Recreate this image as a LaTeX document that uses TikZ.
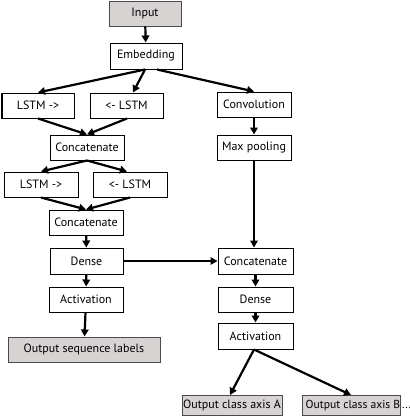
\documentclass[tikz,border=0pt]{standalone}
\usepackage{fontspec}
\setmainfont{PT Sans}
\usetikzlibrary{arrows.meta,calc}
\definecolor{outfill}{HTML}{D8D3D3}
\definecolor{outline}{HTML}{4A4A4A}
\tikzset{
  boxfont/.style={font=\fontsize{12}{14}\selectfont},
  layer/.style={draw=black, line width=1pt, fill=white, rectangle, inner sep=0pt,
    minimum height=25pt, boxfont},
  outbox/.style={layer, draw=outline, fill=outfill},
  flow/.style={line width=2.2pt, -{Triangle[length=7pt,width=7.5pt]}},
  thinflow/.style={line width=1.4pt, -{Triangle[length=7pt,width=7.5pt]}},
}
\begin{document}
\begin{tikzpicture}[x=1pt,y=-1pt]
\useasboundingbox (0,0) rectangle (410,416);

% left branch: embedding and stacked bidirectional LSTMs
\node[outbox, minimum width=72pt] (input) at (145,13.5) {Input};
\node[layer, minimum width=72pt, minimum height=26pt] (emb) at (146,56) {Embedding};
\node[layer, minimum width=72pt] (l1f) at (38,105.5) {LSTM ->};
\node[layer, minimum width=73pt] (l1b) at (126.5,105.5) {<- LSTM};
\node[layer, minimum width=74pt] (cat1) at (87,147.5) {Concatenate};
\node[layer, minimum width=74pt] (l2f) at (41,184.5) {LSTM ->};
\node[layer, minimum width=74pt] (l2b) at (130,184.5) {<- LSTM};
\node[layer, minimum width=74pt] (cat2) at (86,222.5) {Concatenate};
\node[layer, minimum width=73pt, minimum height=26pt] (densel) at (86.5,261) {Dense};
\node[layer, minimum width=74pt] (actl) at (86,299.5) {Activation};
\node[outbox, minimum width=152pt] (outseq) at (84,349.5) {Output sequence labels};

% right branch: convolution and class heads
\node[layer, minimum width=74pt] (conv) at (254,104.5) {Convolution};
\node[layer, minimum width=74pt] (pool) at (254,147.5) {Max pooling};
\node[layer, minimum width=75pt, minimum height=26pt] (catr) at (255.5,261) {Concatenate};
\node[layer, minimum width=75pt] (denser) at (255.5,299.5) {Dense};
\node[layer, minimum width=75pt, minimum height=26pt] (actr) at (255.5,336) {Activation};
\node[outbox, minimum width=100pt, minimum height=20pt] (outa) at (232,405.5) {Output class axis A};
\node[outbox, minimum width=98pt, minimum height=20pt] (outb) at (351,405.5) {};
% the label of the last head runs past its box
\node[anchor=west, inner sep=0pt, font=\fontsize{11.6}{14}\selectfont] (outbtxt)
  at ([xshift=4pt]outb.west) {Output class axis B\,...};

% connectors
\draw[flow] (input) -- (emb);
\draw[flow] ([xshift=-1pt]emb.south) -- (l1f.north);
\draw[flow] ([xshift=-1pt]emb.south) -- ([xshift=6.5pt]l1b.north);
\draw[flow] ([xshift=11pt]emb.south) -- (conv.north);
\draw[flow] (l1f.south) -- (cat1.north);
\draw[flow] ([xshift=0.5pt]l1b.south) -- (cat1.north);
\draw[flow] (cat1.south) -- (l2f.north);
\draw[flow] (cat1.south) -- ([xshift=-3pt]l2b.north);
\draw[flow] (l2f.south) -- (cat2.north);
\draw[flow] (l2b.south) -- (cat2.north);
\draw[flow] (cat2) -- (densel);
\draw[flow] (densel) -- (actl);
\draw[flow] (actl) -- (outseq);
\draw[flow] (conv) -- (pool);
\draw[flow] (pool.south) -- ([xshift=-1.5pt]catr.north);
\coordinate (mid) at ($(densel.east)!0.5!(catr.west)$);
\draw[line width=2.2pt] (densel.east) -- (mid);
\draw[thinflow] (mid) -- (catr.west);
\draw[flow] (catr) -- (denser);
\draw[flow] (denser) -- (actr);
\draw[flow] ([xshift=-1.5pt]actr.south) -- ([xshift=-2pt]outa.north);
\draw[flow] ([xshift=-1.5pt]actr.south) -- (outb.north);
\end{tikzpicture}
\end{document}
